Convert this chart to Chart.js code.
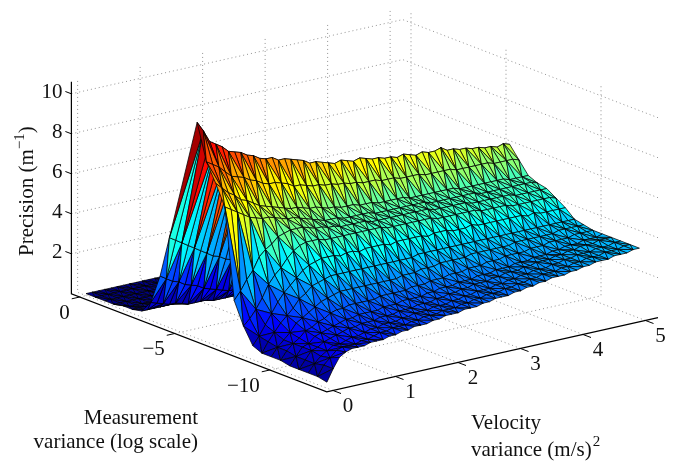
<!DOCTYPE html>
<html>
<head>
<meta charset="utf-8">
<script src="https://cdn.jsdelivr.net/npm/chart.js@4"></script>
<style>
  html, body { margin: 0; padding: 0; background: #fff; }
  canvas { display: block; }
</style>
</head>
<body>
<canvas id="grafico" width="673" height="461"></canvas>
<script>
// =========================================================
// DATA
// =========================================================
const velocityVar = [0, .1, .2, .3, .4, .5, .6, .7, .8, .9, 1, 1.1, 1.2, 1.3, 1.4, 1.5, 1.6, 1.7, 1.8, 1.9, 2, 2.1, 2.2, 2.3, 2.4, 2.5, 2.6, 2.7, 2.8, 2.9, 3, 3.1, 3.2, 3.3, 3.4, 3.5, 3.6, 3.7, 3.8, 3.9, 4, 4.1, 4.2, 4.3, 4.4, 4.5, 4.6, 4.7, 4.8, 4.9, 5];
const measurementVar = [0, -0.49, -0.98, -1.46, -1.95, -2.44, -2.93, -3.41, -3.9, -4.39, -5.85, -6.34, -6.83, -7.31, -7.8, -8.29, -8.78, -9.26, -9.75, -10.24, -10.73, -11.21, -11.7, -12.19, -12.68];
// one row per measurementVar, one column per velocityVar
const precision = [
  [.1,.1,.1,.1,.1,.1,.1,.1,.1,.1, .1,.1,.1,.1,.1,.1,.1,.1,.1,.1, .1,.1,.1,.1,.1,.1,.1,.1,.1,.1, .1,.1,.1,.1,.1,.1,.1,.1,.1,.1, .1,.1,.1,.1,.1,.1,.1,.1,.1,.1, .1],
  [.1,.1,.1,.1,.1,.1,.1,.1,.1,.1, .1,.1,.1,.1,.1,.1,.1,.1,.1,.1, .1,.1,.1,.1,.1,.1,.1,.1,.1,.1, .1,.1,.1,.1,.1,.1,.1,.1,.1,.1, .1,.1,.1,.1,.1,.1,.1,.1,.1,.1, .1],
  [.1,.1,.1,.1,.1,.1,.1,.1,.1,.1, .1,.1,.1,.1,.1,.1,.1,.1,.1,.1, .1,.1,.1,.1,.1,.1,.1,.1,.1,.1, .1,.1,.1,.1,.1,.1,.1,.1,.1,.1, .1,.1,.1,.1,.1,.1,.1,.1,.1,.1, .1],
  [.1,.1,.1,.1,.1,.1,.1,.1,.1,.1, .1,.1,.1,.1,.1,.1,.1,.1,.1,.1, .1,.1,.1,.1,.1,.1,.1,.1,.1,.1, .1,.1,.1,.1,.1,.1,.1,.1,.1,.1, .1,.1,.1,.1,.1,.1,.1,.1,.1,.1, .1],
  [.2,.1,.1,.1,.1,.1,.1,.1,.1,.1, .1,.1,.1,.1,.1,.1,.1,.1,.1,.1, .1,.1,.1,.1,.1,.1,.1,.1,.1,.1, .1,.1,.1,.1,.1,.1,.1,.1,.1,.1, .1,.1,.1,.1,.1,.1,.1,.1,.1,.1, .1],
  [.2,.2,.2,.2,.2,.2,.2,.2,.2,.2, .2,.2,.2,.2,.2,.2,.2,.2,.2,.2, .2,.2,.2,.2,.2,.2,.2,.2,.2,.2, .2,.2,.2,.2,.2,.2,.2,.2,.2,.2, .2,.2,.2,.2,.2,.2,.2,.2,.2,.2, .2],
  [.3,.3,.3,.3,.3,.3,.3,.3,.2,.2, .2,.2,.2,.2,.2,.2,.2,.2,.2,.2, .2,.2,.2,.2,.2,.2,.2,.2,.2,.2, .2,.2,.2,.2,.2,.2,.2,.2,.2,.2, .2,.2,.2,.2,.2,.2,.2,.2,.2,.2, .2],
  [.9,.8,.7,.6,.6,.5,.4,.4,.4,.4, .3,.3,.3,.3,.3,.3,.3,.3,.3,.3, .3,.3,.3,.3,.3,.3,.3,.3,.3,.3, .3,.3,.3,.3,.3,.3,.3,.3,.3,.3, .3,.3,.3,.3,.3,.3,.3,.3,.3,.3, .3],
  [2.4,2.2,2,1.9,1.7,1.6,1.5,1.3,1.2,1.1, 1,.9,.9,.8,.7,.7,.6,.6,.5,.5, .5,.5,.4,.4,.4,.4,.4,.4,.4,.4, .4,.4,.4,.4,.4,.4,.4,.4,.4,.4, .4,.4,.4,.4,.4,.4,.4,.4,.4,.4, .4],
  [4.5,4.3,4.1,3.9,3.7,3.5,3.3,3.1,3,2.8, 2.7,2.6,2.5,2.4,2.3,2.2,2.1,2,1.9,1.9, 1.8,1.7,1.7,1.6,1.6,1.5,1.5,1.4,1.4,1.3, 1.3,1.3,1.2,1.2,1.2,1.1,1.1,1.1,1,1, 1,1,.9,.9,.9,.9,.8,.8,.8,.8, .8],
  [10.8,10.3,9.7,9.5,9.3,9,8.9,8.8,8.6,8.5, 8.3,8.2,8.2,8,8,7.9,7.8,7.7,7.5,7.5, 7.4,7.3,7.2,7.3,7.2,7.1,7.2,7.1,7,7, 6.9,6.9,6.8,6.9,6.8,6.7,6.8,6.7,6.7,6.8, 6.6,6.6,6.5,6.5,6.4,6.4,6.3,6.3,6.2,6.3, 6.2],
  [9,8.8,8.6,8.3,8,7.9,7.8,7.6,7.5,7.3, 7.2,7.2,7.1,7,6.8,6.8,6.7,6.6,6.6,6.5, 6.5,6.4,6.4,6.3,6.3,6.2,6.2,6.2,6.1,6.1, 6.1,6,6,6,6,5.9,5.9,5.9,5.9,5.9, 5.8,5.8,5.8,5.8,5.8,5.8,5.7,5.7,5.7,5.7, 5.6],
  [8.1,7.8,7.5,7.3,7,6.9,6.7,6.5,6.4,6.3, 6.2,6.1,6,6,5.9,5.8,5.8,5.7,5.6,5.6, 5.5,5.5,5.5,5.4,5.4,5.4,5.3,5.3,5.3,5.3, 5.3,5.2,5.2,5.2,5.2,5.2,5.2,5.2,5.2,5.1, 5.1,5.1,5.1,5.1,5.1,5.1,5.1,5,5,5, 5],
  [7.1,6.9,6.7,6.5,6.3,6.2,6.1,6.1,6,5.9, 5.8,5.8,5.7,5.6,5.5,5.4,5.3,5.3,5.3,5.2, 5.2,5.2,5.2,5.2,5.1,5.1,5.1,5.1,5.1,5.1, 5.1,5.1,5.1,5,5,5,5,5,5,5, 5,4.9,4.9,4.9,4.9,4.9,4.9,4.9,4.9,4.9, 4.8],
  [2.6,3,3.5,3.9,4.5,4.8,5,5.3,5.4,5.5, 5.5,5.5,5.4,5.3,5.3,5.2,5.2,5.1,5.1,5.1, 5.1,5.1,5,5,5,5,5,5,5,5, 5,5,4.9,4.9,4.9,4.9,4.9,4.9,4.8,4.8, 4.8,4.8,4.8,4.8,4.8,4.7,4.7,4.7,4.7,4.7, 4.7],
  [1.5,1.8,2.2,2.7,3.3,3.7,4,4.4,4.7,4.9, 5,5,5,4.9,4.9,4.9,4.9,4.9,4.9,4.9, 4.9,4.9,4.9,4.8,4.8,4.8,4.8,4.8,4.8,4.8, 4.8,4.7,4.7,4.7,4.7,4.7,4.7,4.7,4.6,4.6, 4.6,4.6,4.6,4.5,4.5,4.5,4.5,4.5,4.5,4.5, 4.4],
  [.7,1.1,1.6,2.1,2.6,3,3.3,3.6,3.9,4.1, 4.2,4.3,4.3,4.3,4.2,4.3,4.3,4.2,4.3,4.3, 4.3,4.3,4.2,4.3,4.3,4.3,4.3,4.3,4.2,4.3, 4.3,4.3,4.2,4.2,4.2,4.3,4.2,4.2,4.2,4.2, 4.2,4.2,4.2,4.2,4.1,4.2,4.1,4.1,4.1,4.1, 4.1],
  [.5,1,1.4,1.8,2.1,2.4,2.8,3,3.3,3.4, 3.5,3.6,3.6,3.6,3.6,3.6,3.6,3.6,3.6,3.6, 3.6,3.6,3.6,3.6,3.6,3.7,3.7,3.7,3.7,3.7, 3.7,3.7,3.7,3.7,3.7,3.7,3.7,3.7,3.7,3.7, 3.7,3.7,3.7,3.7,3.7,3.7,3.7,3.7,3.7,3.7, 3.7],
  [.5,.9,1.2,1.5,1.9,2.1,2.3,2.5,2.7,2.8, 2.9,3,3,3,3,3,3,3,3,3, 3,3.1,3.1,3.1,3.2,3.2,3.2,3.3,3.3,3.3, 3.3,3.3,3.4,3.4,3.4,3.4,3.4,3.4,3.4,3.5, 3.5,3.5,3.5,3.5,3.5,3.5,3.6,3.6,3.6,3.6, 3.6],
  [.5,.9,1.2,1.4,1.7,1.8,2,2.1,2.3,2.4, 2.4,2.5,2.5,2.5,2.5,2.5,2.6,2.6,2.6,2.6, 2.6,2.7,2.7,2.7,2.8,2.8,2.8,2.9,2.9,2.9, 3,3,3,3.1,3.1,3.1,3.2,3.2,3.2,3.2, 3.3,3.3,3.3,3.4,3.4,3.4,3.4,3.5,3.5,3.5, 3.5],
  [.4,.8,1.2,1.3,1.6,1.7,1.8,1.9,2,2.1, 2.1,2.2,2.2,2.2,2.2,2.3,2.3,2.3,2.4,2.4, 2.4,2.4,2.5,2.5,2.6,2.6,2.6,2.7,2.7,2.7, 2.8,2.8,2.8,2.9,2.9,2.9,3,3,3,3.1, 3.1,3.1,3.2,3.2,3.3,3.3,3.3,3.4,3.4,3.4, 3.5],
  [.4,.8,1.2,1.3,1.5,1.6,1.7,1.8,1.9,1.9, 2,2,2,2.1,2.1,2.1,2.2,2.2,2.2,2.3, 2.3,2.3,2.4,2.4,2.5,2.5,2.6,2.6,2.7,2.7, 2.7,2.8,2.8,2.9,2.9,2.9,3,3,3.1,3.1, 3.1,3.2,3.2,3.3,3.3,3.4,3.4,3.4,3.5,3.5, 3.5],
  [.4,.8,1.1,1.3,1.5,1.5,1.6,1.7,1.7,1.8, 1.9,1.9,2,2,2,2.1,2.1,2.2,2.2,2.2, 2.3,2.3,2.3,2.4,2.4,2.5,2.5,2.6,2.6,2.6, 2.7,2.7,2.8,2.8,2.9,2.9,3,3,3,3.1, 3.1,3.2,3.2,3.3,3.3,3.3,3.4,3.4,3.4,3.5, 3.5],
  [.4,.9,1.2,1.5,1.6,1.6,1.6,1.7,1.7,1.8, 1.9,1.9,2,2,2,2.1,2.1,2.2,2.2,2.2, 2.3,2.3,2.3,2.4,2.4,2.5,2.5,2.6,2.6,2.6, 2.7,2.7,2.8,2.8,2.9,2.9,3,3,3,3.1, 3.1,3.2,3.2,3.3,3.3,3.3,3.4,3.4,3.4,3.5, 3.5],
  [.3,.9,1.4,1.6,1.7,1.7,1.7,1.8,1.8,1.8, 1.9,1.9,2,2,2.1,2.1,2.1,2.2,2.2,2.3, 2.3,2.3,2.4,2.4,2.4,2.5,2.5,2.6,2.6,2.6, 2.7,2.7,2.8,2.8,2.9,2.9,3,3,3,3.1, 3.1,3.2,3.2,3.3,3.3,3.3,3.4,3.4,3.4,3.5, 3.5]
];
const velocityTicks = [0, 1, 2, 3, 4, 5];
const measurementTicks = [0, -5, -10];
const precisionTicks = [2, 4, 6, 8, 10];
const velocityLabels = ['0', '1', '2', '3', '4', '5'];
const measurementLabels = ['0', '\u22125', '\u221210'];
const precisionLabels = ['2', '4', '6', '8', '10'];

// =========================================================
// 3D VIEW: box limits and projection onto the chart scales
// =========================================================
const vMin = -0.1, vMax = 5.2, mMin = -13, mMax = 0.44, zMax = 10.6, corMax = 11.2;

function projetar(v, m, z) {
  return { x: 86 + 62.5 * v - 19 * m, y: 295.6 - 14 * v - 7.3 * m - 20 * z };
}

// MATLAB jet colormap
function jet(t) {
  t = Math.max(0, Math.min(1, t));
  const c = f => Math.round(255 * Math.max(0, Math.min(1, f)));
  return `rgb(${c(1.5 - Math.abs(4 * t - 3))},${c(1.5 - Math.abs(4 * t - 2))},${c(1.5 - Math.abs(4 * t - 1))})`;
}

function linha(pontos, cor, largura, tracejado) {
  return { type: 'scatter', showLine: true, data: pontos, borderColor: cor, borderWidth: largura,
           borderDash: tracejado || [], pointRadius: 0, fill: false };
}

// =========================================================
// DATASETS: grid and box first, then the triangles back to front
// =========================================================
const pontilhado = [1, 3], corGrade = '#777';
const fundo = [];

precisionTicks.forEach(z => {
  fundo.push(linha([projetar(vMin, mMax, z), projetar(vMax, mMax, z), projetar(vMax, mMin, z)], corGrade, 0.8, pontilhado));
});
velocityTicks.forEach(v => {
  fundo.push(linha([projetar(v, mMin, 0), projetar(v, mMax, 0), projetar(v, mMax, zMax)], corGrade, 0.8, pontilhado));
});
measurementTicks.forEach(m => {
  fundo.push(linha([projetar(vMin, m, 0), projetar(vMax, m, 0), projetar(vMax, m, zMax)], corGrade, 0.8, pontilhado));
});
// floor axes and vertical axis
fundo.push(linha([projetar(vMin, mMax, zMax), projetar(vMin, mMax, 0), projetar(vMin, mMin, 0), projetar(vMax, mMin, 0)], '#000', 1.2));
precisionTicks.forEach(z => {
  const a = projetar(vMin, mMax, z);
  fundo.push(linha([a, { x: a.x - 6, y: a.y - 2.3 }], '#000', 1));
});
measurementTicks.forEach(m => {
  const a = projetar(vMin, m, 0);
  fundo.push(linha([a, { x: a.x - 8, y: a.y + 1.8 }], '#000', 1));
});
velocityTicks.forEach(v => {
  const a = projetar(v, mMin, 0);
  fundo.push(linha([a, { x: a.x + 8, y: a.y + 3 }], '#000', 1));
});

// split each grid cell in two triangles; as in MATLAB flat shading,
// each triangle takes the colour of one of its own vertices (the last in the list)
const triangulos = [];
for (let i = 0; i < measurementVar.length - 1; i++) {
  for (let j = 0; j < velocityVar.length - 1; j++) {
    const n = (a, b) => ({ v: velocityVar[b], m: measurementVar[a], z: precision[a][b] });
    const A = n(i, j), B = n(i, j + 1), C = n(i + 1, j + 1), D = n(i + 1, j);
    const pares = (i + j) % 2 ? [[B, C, A], [A, C, D]] : [[B, D, A], [B, C, D]];
    pares.forEach(t => {
      const v = (t[0].v + t[1].v + t[2].v) / 3, m = (t[0].m + t[1].m + t[2].m) / 3;
      triangulos.push({ t, z: t[2].z, prof: -14 * v - 7.3 * m });
    });
  }
}
triangulos.sort((a, b) => a.prof - b.prof);

const malha = triangulos.map(({ t, z }) => {
  const p = t.map(q => projetar(q.v, q.m, q.z));
  return { type: 'scatter', showLine: true, data: [p[0], p[1], p[2], p[0]], fill: 'shape',
           backgroundColor: jet(z / corMax), borderColor: '#000', borderWidth: 0.75,
           borderJoinStyle: 'round', pointRadius: 0 };
});

// =========================================================
// TEXT: tick labels and axis titles, placed through the scales
// =========================================================
const textos = {
  id: 'textos',
  afterDraw(chart) {
    const { ctx, scales } = chart;
    const px = scales.x.getPixelForValue.bind(scales.x), py = scales.y.getPixelForValue.bind(scales.y);
    const fonte = t => `${t}px "Liberation Serif"`;
    ctx.save();
    ctx.fillStyle = '#111';
    ctx.font = fonte(21);
    ctx.textBaseline = 'middle';

    ctx.textAlign = 'right';
    precisionTicks.forEach((z, k) => {
      const a = projetar(vMin, mMax, z);
      ctx.fillText(precisionLabels[k], px(a.x - 9), py(a.y - 1.5));
    });
    measurementTicks.forEach((m, k) => {
      const a = projetar(vMin, m, 0);
      ctx.fillText(measurementLabels[k], px(a.x - 10), py(a.y + 16));
    });
    ctx.textAlign = 'center';
    velocityTicks.forEach((v, k) => {
      const a = projetar(v, mMin, 0);
      ctx.fillText(velocityLabels[k], px(a.x + 15), py(a.y + 16));
    });

    ctx.textBaseline = 'alphabetic';
    ctx.textAlign = 'right';
    ctx.fillText('Measurement', px(198), py(424));
    ctx.fillText('variance (log scale)', px(198), py(448));
    ctx.textAlign = 'left';
    ctx.fillText('Velocity', px(471), py(429));
    ctx.fillText('variance (m/s)', px(471), py(456));
    const largura = ctx.measureText('variance (m/s)').width;
    ctx.font = fonte(15);
    ctx.fillText('2', px(471 + largura + 1), py(446));

    // vertical title, with the exponent drawn as its own piece
    ctx.translate(px(33), py(256));
    ctx.rotate(-Math.PI / 2);
    ctx.font = fonte(21);
    let x = 0;
    ctx.fillText('Precision (m', x, 0);
    x += ctx.measureText('Precision (m').width;
    ctx.font = fonte(15);
    ctx.fillText('\u22121', x, -9);
    x += ctx.measureText('\u22121').width;
    ctx.font = fonte(21);
    ctx.fillText(')', x, 0);
    ctx.restore();
  }
};

// =========================================================
// CHART
// =========================================================
new Chart(document.getElementById('grafico'), {
  type: 'scatter',
  // Chart.js paints the first dataset last, so the list goes front to back
  data: { datasets: fundo.concat(malha).reverse() },
  options: {
    responsive: false,
    animation: false,
    events: [],
    layout: { padding: 0 },
    plugins: { legend: { display: false }, tooltip: { enabled: false } },
    scales: {
      x: { type: 'linear', display: false, min: 0, max: 673 },
      y: { type: 'linear', display: false, min: 0, max: 461, reverse: true }
    }
  },
  plugins: [textos]
});
</script>
</body>
</html>
